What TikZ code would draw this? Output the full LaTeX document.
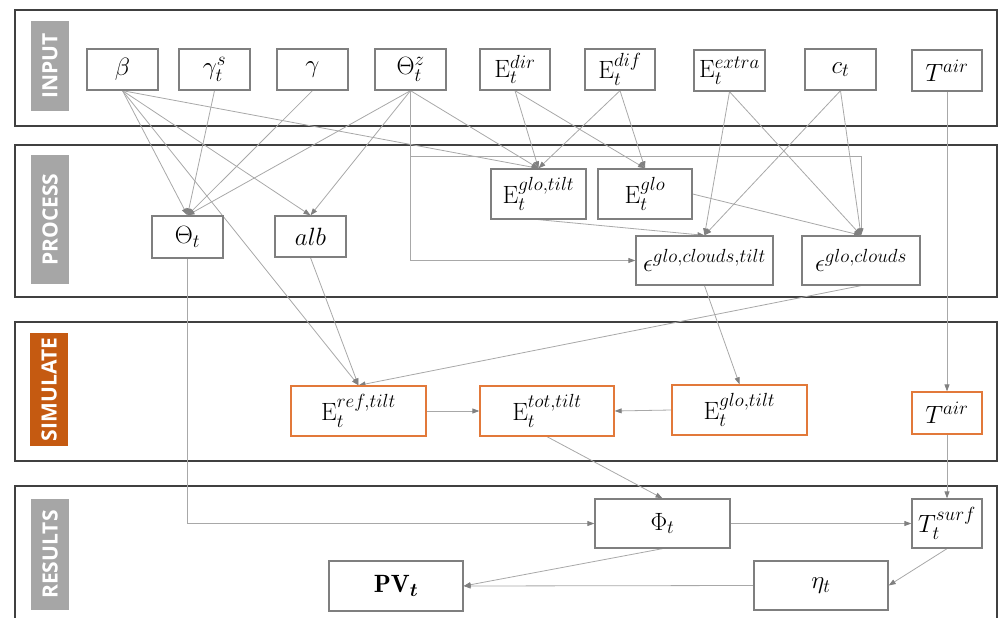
\RequirePackage{fix-cm}
\documentclass[tikz,border=0pt]{standalone}
\usepackage{amsmath}
\usepackage{fontspec}
\newfontfamily\labelfont{Open Sans}
\DeclareMathSizes{25}{25}{19}{14}
\usetikzlibrary{arrows.meta,backgrounds}
\definecolor{panelc}{HTML}{404040}
\definecolor{boxc}{HTML}{7F7F7F}
\definecolor{linec}{HTML}{A8A8A8}
\definecolor{tipc}{HTML}{808080}
\definecolor{tagc}{HTML}{A6A6A6}
\definecolor{simc}{HTML}{C55A11}
\definecolor{orangec}{HTML}{E2793A}
\tikzset{
  panel/.style={draw=panelc, line width=1.5pt},
  tag/.style={fill=tagc, text=white, rotate=90, inner sep=0pt, minimum height=38pt,
    font=\labelfont\bfseries\fontsize{21}{24}\selectfont},
  box/.style={draw=boxc, line width=1.3pt, fill=white, inner sep=0pt,
    font=\fontsize{25}{30}\selectfont},
  obox/.style={box, draw=orangec},
  sz/.style 2 args={minimum width=#1pt, minimum height=#2pt},
  arr/.style={draw=linec, line width=0.8pt, -{Triangle[length=7pt,width=5pt,color=tipc]}}
}
\begin{document}
\begin{tikzpicture}[x=1pt,y=-1pt]
\useasboundingbox (0,0) rectangle (998,618);
\clip (0,0) rectangle (998,618);
% panels
\begin{pgfonlayer}{background}
\draw[panel] (15,10) rectangle (997,126);
\draw[panel] (15,145) rectangle (997,297);
\draw[panel] (15,322) rectangle (997,461);
\draw[panel] (15,486) rectangle (997,640);
\end{pgfonlayer}
% tags
\node[tag, minimum width=90pt] (tin) at (50,66) {INPUT};
\node[tag, minimum width=129pt] (tpr) at (50,219.5) {PROCESS};
\node[tag, fill=simc, minimum width=113pt] (tsi) at (49,389.5) {SIMULATE};
\node[tag, minimum width=111pt] (tre) at (50,554.5) {RESULTS};
% input
\node[box, sz={71}{41}] (beta) at (122.5,69.5) {$\beta$};
\node[box, sz={71}{41}] (gs) at (214.5,69.5) {$\gamma_t^s$};
\node[box, sz={71}{41}] (g) at (312.5,69.5) {$\gamma$};
\node[box, sz={71}{41}] (thz) at (410.5,69.5) {$\Theta_t^z$};
\node[box, sz={70}{41}] (edir) at (515,69.5) {$\mathrm{E}_t^{dir}$};
\node[box, sz={70}{41}] (edif) at (620,69.5) {$\mathrm{E}_t^{dif}$};
\node[box, sz={71}{41}] (eex) at (729.5,70.5) {$\mathrm{E}_t^{extra}$};
\node[box, sz={71}{41}] (ct) at (840.5,69.5) {$c_t$};
\node[box, sz={70}{41}] (tair) at (947,70.5) {$T^{air}$};
% process
\node[box, sz={71}{42}] (th) at (187.5,237) {$\Theta_t$};
\node[box, sz={71}{41}] (alb) at (310.5,236.5) {$alb$};
\node[box, sz={95}{50}] (egt) at (538.5,194) {$\mathrm{E}_t^{glo,tilt}$};
\node[box, sz={94}{50}] (eg) at (645,194) {$\mathrm{E}_t^{glo}$};
\node[box, sz={137}{49}] (ect) at (704.5,260.5) {$\epsilon^{glo,clouds,tilt}$};
\node[box, sz={118}{49}] (ec) at (861,260.5) {$\epsilon^{glo,clouds}$};
% simulate
\node[obox, sz={135}{50}] (eref) at (358.5,411) {$\mathrm{E}_t^{ref,tilt}$};
\node[obox, sz={134}{50}] (etot) at (547,411) {$\mathrm{E}_t^{tot,tilt}$};
\node[obox, sz={135}{50}] (egts) at (739.5,410) {$\mathrm{E}_t^{glo,tilt}$};
\node[obox, sz={70}{42}] (tairs) at (947,413) {$T^{air}$};
% results
\node[box, sz={135}{49}] (phi) at (662.5,523.5) {$\Phi_t$};
\node[box, sz={70}{49}] (tsurf) at (947,523.5) {$T_t^{surf}$};
\node[box, sz={134}{49}] (eta) at (821,585.5) {$\eta_t$};
\node[box, sz={134}{50}] (pv) at (396,586) {$\mathbf{PV}_{\boldsymbol{t}}$};
% connectors
\begin{pgfonlayer}{background}
\draw[arr] (beta.south) -- (th.north);
\draw[arr] (beta.south) -- (alb.north);
\draw[arr] (beta.south) -- (eref.north);
\draw[arr] (beta.south) -- (egt.north);
\draw[arr] (gs.south) -- (th.north);
\draw[arr] (g.south) -- (th.north);
\draw[arr] (thz.south) -- (th.north);
\draw[arr] (thz.south) -- (alb.north);
\draw[arr] (thz.south) -- (egt.north);
\draw[arr] (thz.south) |- (ect.west);
\draw[arr] (thz.south) -- ++(0,66) -| (ec.north);
\draw[arr] (edir.south) -- (egt.north);
\draw[arr] (edir.south) -- (eg.north);
\draw[arr] (edif.south) -- (egt.north);
\draw[arr] (edif.south) -- (eg.north);
\draw[arr] (eex.south) -- (ect.north);
\draw[arr] (eex.south) -- (ec.north);
\draw[arr] (ct.south) -- (ect.north);
\draw[arr] (ct.south) -- (ec.north);
\draw[arr] (tair.south) -- (tairs.north);
\draw[arr] (egt.south) -- (ect.north);
\draw[arr] (eg.east) -- (ec.north);
\draw[arr] (alb.south) -- (eref.north);
\draw[arr] (ec.south) -- (eref.north);
\draw[arr] (ect.south) -- (egts.north);
\draw[arr] (eref.east) -- (etot.west);
\draw[arr] (egts.west) -- (etot.east);
\draw[arr] (etot.south) -- (phi.north);
\draw[arr] (th.south) |- (phi.west);
\draw[arr] (phi.east) -- (tsurf.west);
\draw[arr] (tairs.south) -- (tsurf.north);
\draw[arr] (tsurf.south) -- (eta.east);
\draw[arr] (phi.south) -- (pv.east);
\draw[arr] (eta.west) -- (pv.east);
\end{pgfonlayer}
\end{tikzpicture}
\end{document}
